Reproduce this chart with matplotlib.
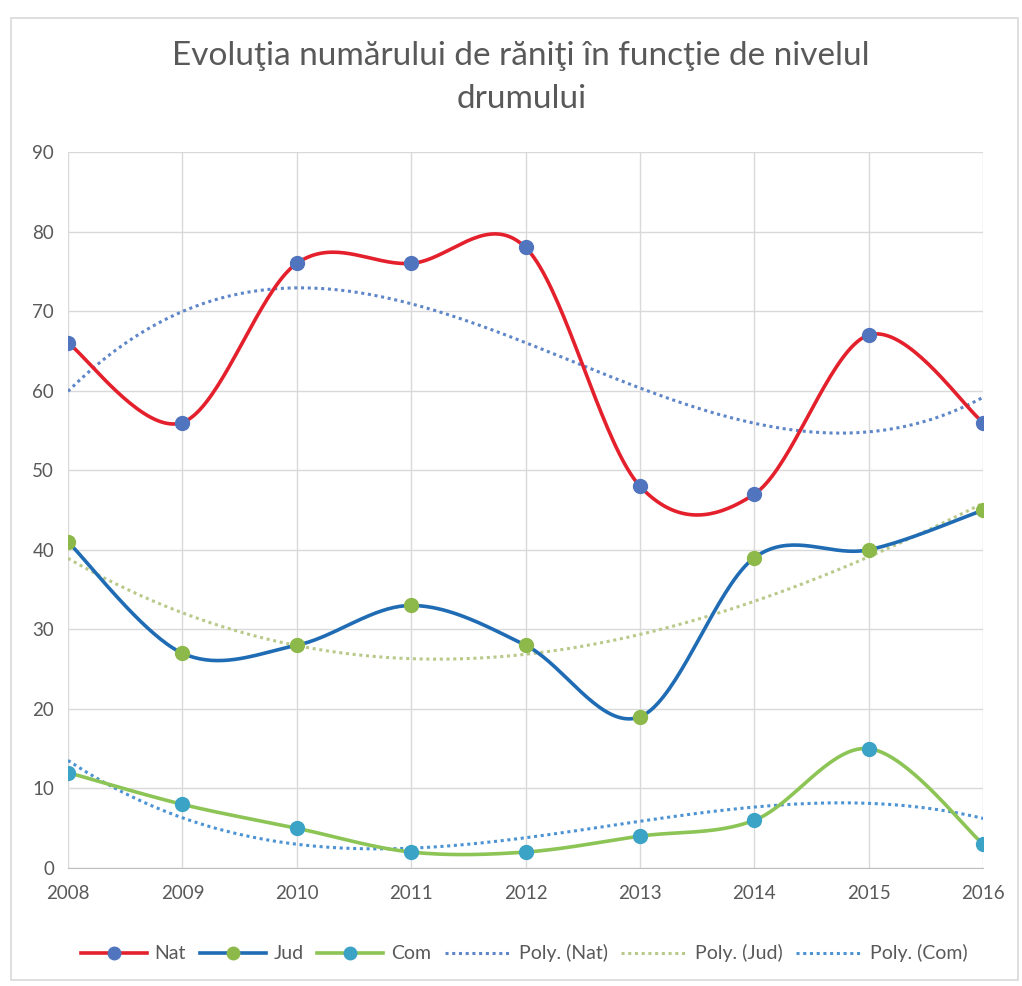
import numpy as np
import matplotlib
matplotlib.use("Agg")
import matplotlib.pyplot as plt
from matplotlib.lines import Line2D
from matplotlib.patches import Rectangle

plt.rcParams['font.family'] = ['Lato', 'DejaVu Sans']

years = [2008, 2009, 2010, 2011, 2012, 2013, 2014, 2015, 2016]
nat = [66, 56, 76, 76, 78, 48, 47, 67, 56]
jud = [41, 27, 28, 33, 28, 19, 39, 40, 45]
com = [12, 8, 5, 2, 2, 4, 6, 15, 3]
series_names = ["Nat", "Jud", "Com"]
title = "Evoluţia numărului de răniţi în funcţie de nivelul\ndrumului"

line_colors = ["#E3202B", "#1F6CB4", "#8CC455"]
marker_colors = ["#5075BE", "#8DB84A", "#3BA3C6"]
trend_colors = ["#5E86C9", "#B9C98A", "#4C93D4"]
text_grey = "#595959"
grid_grey = "#D9D9D9"


def smooth(xs, ys, n=40):
    """Catmull-Rom style smoothing through every point."""
    xs = np.asarray(xs, float)
    ys = np.asarray(ys, float)
    px = np.concatenate([[xs[0]], xs, [xs[-1]]])
    py = np.concatenate([[ys[0]], ys, [ys[-1]]])
    outx, outy = [], []
    for i in range(1, len(px) - 2):
        p0x, p1x, p2x, p3x = px[i - 1], px[i], px[i + 1], px[i + 2]
        p0y, p1y, p2y, p3y = py[i - 1], py[i], py[i + 1], py[i + 2]
        c1x = p1x + (p2x - p0x) / 6
        c1y = p1y + (p2y - p0y) / 6
        c2x = p2x - (p3x - p1x) / 6
        c2y = p2y - (p3y - p1y) / 6
        t = np.linspace(0, 1, n)
        bx = (1 - t) ** 3 * p1x + 3 * (1 - t) ** 2 * t * c1x + 3 * (1 - t) * t ** 2 * c2x + t ** 3 * p2x
        by = (1 - t) ** 3 * p1y + 3 * (1 - t) ** 2 * t * c1y + 3 * (1 - t) * t ** 2 * c2y + t ** 3 * p2y
        outx.extend(bx)
        outy.extend(by)
    return np.array(outx), np.array(outy)


fig = plt.figure(figsize=(10.22, 9.86), dpi=100)
fig.patches.append(Rectangle((0.011, 0.006), 0.985, 0.976, transform=fig.transFigure,
                             fill=False, edgecolor="#D9D9D9", linewidth=1.2))
ax = fig.add_axes([0.0665, 0.1197, 0.8955, 0.7261])

x = np.arange(len(years))
handles = []
for vals, lc, mc, name in zip([nat, jud, com], line_colors, marker_colors, series_names):
    sx, sy = smooth(x, vals)
    ax.plot(sx, sy, color=lc, linewidth=2.6, solid_capstyle="round", zorder=3)
    ax.plot(x, vals, linestyle="none", marker="o", markersize=10,
            markerfacecolor=mc, markeredgecolor=mc, zorder=4)
    handles.append(Line2D([0], [0], color=lc, linewidth=2.6, marker="o", markersize=9,
                          markerfacecolor=mc, markeredgecolor=mc, label=name))

xf = np.linspace(0, len(years) - 1, 300)
for vals, tc, name in zip([nat, jud, com], trend_colors, series_names):
    coef = np.polyfit(x + 1, vals, 3)
    ax.plot(xf, np.polyval(coef, xf + 1), color=tc, linewidth=2.2,
            linestyle=(0, (1, 1.2)), zorder=2)
    handles.append(Line2D([0], [0], color=tc, linewidth=2.2, linestyle=(0, (1, 1.2)),
                          label=f"Poly. ({name})"))

ax.set_xlim(0, len(years) - 1)
ax.set_ylim(0, 90)
ax.set_yticks(range(0, 91, 10))
ax.set_xticks(x)
ax.set_xticklabels([str(y) for y in years])
ax.grid(True, color=grid_grey, linewidth=1)
ax.set_axisbelow(True)
for s in ["top", "right", "left"]:
    ax.spines[s].set_visible(False)
ax.spines["bottom"].set_color("#BFBFBF")
ax.tick_params(axis="both", length=0, labelsize=13.5, colors=text_grey, pad=10)
ax.tick_params(axis="x", pad=12)

fig.text(0.51, 0.921, title, ha="center", va="center", fontsize=24,
         color=text_grey, linespacing=1.55)

fig.legend(handles=handles, loc="center", bbox_to_anchor=(0.513, 0.033), ncol=6,
           frameon=False, fontsize=14, labelcolor=text_grey, handlelength=3.4,
           columnspacing=0.7, handletextpad=0.4)

fig.savefig("out.png", dpi=100, facecolor="white")
